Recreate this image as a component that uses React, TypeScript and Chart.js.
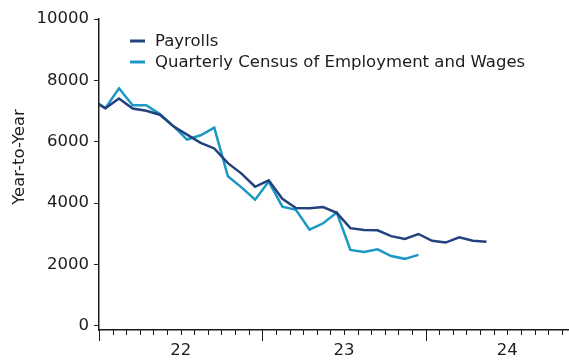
import React, { useEffect, useRef } from "react";
import { Chart, registerables } from "chart.js";

Chart.register(...registerables);

// Months (YYYY-MM) for each observation
const payrollMonths = [
  "2021-12", "2022-01", "2022-02", "2022-03", "2022-04", "2022-05", "2022-06",
  "2022-07", "2022-08", "2022-09", "2022-10", "2022-11", "2022-12",
  "2023-01", "2023-02", "2023-03", "2023-04", "2023-05", "2023-06",
  "2023-07", "2023-08", "2023-09", "2023-10", "2023-11", "2023-12",
  "2024-01", "2024-02", "2024-03", "2024-04", "2024-05",
];
const payrolls = [
  7350, 7090, 7410, 7080, 7010, 6880, 6500,
  6230, 5960, 5780, 5300, 4960, 4530,
  4740, 4140, 3840, 3830, 3870, 3680,
  3180, 3120, 3110, 2920, 2830, 2990,
  2770, 2710, 2880, 2770, 2740,
];

const qcewMonths = payrollMonths.slice(0, 25);
const qcew = [
  7400, 7090, 7740, 7190, 7190, 6900, 6510,
  6070, 6210, 6460, 4870, 4510, 4110,
  4700, 3880, 3780, 3130, 3340, 3690,
  2470, 2400, 2490, 2270, 2180, 2310,
];

const yTicks = [0, 2000, 4000, 6000, 8000, 10000];
const yearLabels = ["22", "23", "24"];
const yearLabelMonths = ["2022-07", "2023-07", "2024-07"];

const seriesNames = ["Payrolls", "Quarterly Census of Employment and Wages"];
const DARK = "#22427d";
const LIGHT = "#1b98c4";
const INK = "#1c1c1c";
const FONT = "'DejaVu Sans', sans-serif";

function monthPos(m: string, offset: number) {
  const [y, mo] = m.split("-").map(Number);
  return (y - 2022) * 12 + (mo - 1) + offset;
}

export default function App() {
  const ref = useRef<HTMLCanvasElement | null>(null);

  useEffect(() => {
    const canvas = ref.current;
    if (!canvas) return;

    const overlay = {
      id: "overlay",
      afterDraw(chart: any) {
        const { ctx, chartArea, scales } = chart;
        const xs = scales.x;
        ctx.save();
        // x tick marks (monthly, long at year starts)
        ctx.strokeStyle = INK;
        ctx.lineWidth = 1;
        for (let i = 0; i <= 34; i++) {
          const px = Math.round(xs.getPixelForValue(i)) + 0.5;
          const len = i % 12 === 0 ? 11 : 5;
          ctx.beginPath();
          ctx.moveTo(px, chartArea.bottom);
          ctx.lineTo(px, chartArea.bottom + len);
          ctx.stroke();
        }
        // legend
        const colors = [DARK, LIGHT];
        const ys = [41, 62];
        ctx.font = `16.5px ${FONT}`;
        ctx.textBaseline = "middle";
        ctx.textAlign = "left";
        seriesNames.forEach((name, i) => {
          ctx.strokeStyle = colors[i];
          ctx.lineWidth = 3;
          ctx.beginPath();
          ctx.moveTo(130, ys[i]);
          ctx.lineTo(145, ys[i]);
          ctx.stroke();
          ctx.fillStyle = INK;
          ctx.fillText(name, 155, ys[i] + 1);
        });
        // y axis title
        ctx.translate(20, 157);
        ctx.rotate(-Math.PI / 2);
        ctx.textAlign = "center";
        ctx.font = `16.5px ${FONT}`;
        ctx.fillText("Year-to-Year", 0, 0);
        ctx.restore();
      },
    };

    const clip = { left: 0, right: 5, top: 5, bottom: 5 };

    const chart = new Chart(canvas, {
      type: "line",
      data: {
        datasets: [
          {
            label: seriesNames[0],
            data: payrolls.map((v, i) => ({ x: monthPos(payrollMonths[i], 0.47), y: v })),
            borderColor: DARK,
            backgroundColor: DARK,
            borderWidth: 2.5,
            pointRadius: 0,
            tension: 0,
            clip,
          },
          {
            label: seriesNames[1],
            data: qcew.map((v, i) => ({ x: monthPos(qcewMonths[i], 0.47), y: v })),
            borderColor: LIGHT,
            backgroundColor: LIGHT,
            borderWidth: 2.5,
            pointRadius: 0,
            tension: 0,
            clip,
          },
        ],
      } as any,
      plugins: [overlay],
      options: {
        animation: false,
        responsive: false,
        layout: { padding: { top: 19, left: 0, right: 1, bottom: 0 } },
        plugins: { legend: { display: false }, tooltip: { enabled: false } },
        scales: {
          x: {
            type: "linear",
            min: 0,
            max: 34.46,
            afterBuildTicks: (s: any) => {
              s.ticks = yearLabelMonths.map((m) => ({ value: monthPos(m, 0) }));
            },
            afterFit: (s: any) => {
              s.height = 30;
            },
            ticks: {
              autoSkip: false,
              maxRotation: 0,
              padding: 3,
              color: INK,
              font: { family: FONT, size: 16.5 },
              callback: (v: any) => {
                const idx = yearLabelMonths.findIndex((m) => monthPos(m, 0) === v);
                return idx >= 0 ? yearLabels[idx] : "";
              },
            },
            grid: {
              drawOnChartArea: false,
              drawTicks: true,
              tickLength: 8,
              tickColor: "rgba(0,0,0,0)",
            },
            border: { display: true, color: INK, width: 1.5 },
          },
          y: {
            type: "linear",
            min: -140,
            max: 10000,
            afterBuildTicks: (s: any) => {
              s.ticks = yTicks.map((v) => ({ value: v }));
            },
            afterFit: (s: any) => {
              s.width = 99;
            },
            ticks: {
              padding: 5,
              color: INK,
              font: { family: FONT, size: 16.5 },
              callback: (v: any) => String(v),
            },
            grid: {
              drawOnChartArea: false,
              drawTicks: true,
              tickLength: 5,
              tickColor: INK,
            },
            border: { display: true, color: INK, width: 1.5 },
          },
        },
      } as any,
    });

    return () => chart.destroy();
  }, []);

  return (
    <div style={{ position: "absolute", left: 0, top: 0, width: 569, height: 360, background: "#fff" }}>
      <canvas ref={ref} width={569} height={360} style={{ width: 569, height: 360, display: "block" }} />
    </div>
  );
}
